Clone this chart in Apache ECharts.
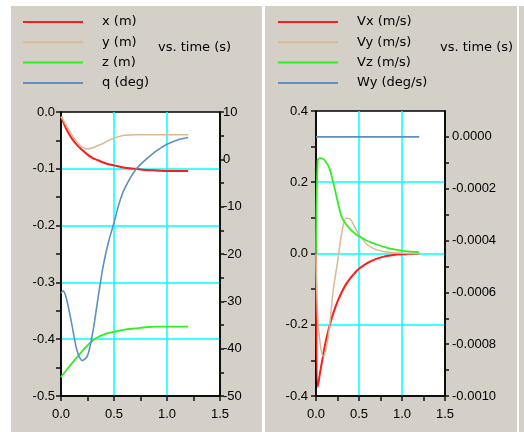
<!DOCTYPE html>
<html>
<head>
<meta charset="utf-8">
<script src="https://cdn.jsdelivr.net/npm/echarts@6/dist/echarts.min.js"></script>
<style>
  html, body { margin: 0; padding: 0; background: #ffffff; }
  #wrap { position: relative; width: 524px; height: 432px; }
  .panel { position: absolute; top: 6px; height: 426px; background: #d4d0c8; }
  #chart { position: absolute; left: 0; top: 0; width: 524px; height: 432px; }
</style>
</head>
<body>
<div id="wrap">
  <div class="panel" style="left:11px;width:251px"></div>
  <div class="panel" style="left:265px;width:252px"></div>
  <div class="panel" style="left:519px;width:5px"></div>
  <div id="chart"></div>
</div>
<script>
// Position / attitude history (left panel)
const tL   = [0, 0.02, 0.05, 0.1, 0.15, 0.2, 0.25, 0.3, 0.35, 0.4, 0.45, 0.5, 0.55, 0.6, 0.7, 0.8, 0.9, 1.0, 1.1, 1.2];
const xPos = [-0.008, -0.017, -0.030, -0.046, -0.058, -0.067, -0.075, -0.081, -0.085, -0.089, -0.092, -0.094, -0.096, -0.098, -0.100, -0.102, -0.103, -0.104, -0.104, -0.104];
const yPos = [-0.008, -0.014, -0.024, -0.040, -0.053, -0.062, -0.065, -0.063, -0.059, -0.055, -0.050, -0.046, -0.043, -0.041, -0.040, -0.040, -0.040, -0.040, -0.040, -0.040];
const zPos = [-0.467, -0.462, -0.455, -0.443, -0.432, -0.421, -0.411, -0.402, -0.396, -0.392, -0.389, -0.387, -0.385, -0.383, -0.381, -0.379, -0.378, -0.378, -0.378, -0.378];
const qAng = [-28.3, -27.8, -29.3, -34.6, -40.3, -42.5, -41.5, -36.5, -29.2, -22.3, -17.3, -13.4, -9.2, -6.2, -2.3, -0.05, 1.8, 3.2, 4.1, 4.6];

// Velocity / rate history (right panel)
const tR = [0, 0.02, 0.05, 0.08, 0.1, 0.15, 0.2, 0.25, 0.3, 0.35, 0.4, 0.45, 0.5, 0.6, 0.7, 0.8, 0.9, 1.0, 1.1, 1.2];
const vx = [0, -0.375, -0.330, -0.290, -0.262, -0.210, -0.168, -0.135, -0.108, -0.086, -0.069, -0.055, -0.043, -0.026, -0.015, -0.008, -0.004, -0.002, -0.001, 0];
const vy = [0, -0.180, -0.255, -0.288, -0.285, -0.220, -0.104, -0.025, 0.058, 0.099, 0.096, 0.074, 0.053, 0.024, 0.011, 0.005, 0.002, 0.001, 0, 0];
const vz = [0, 0.262, 0.268, 0.266, 0.262, 0.243, 0.200, 0.148, 0.102, 0.082, 0.068, 0.057, 0.049, 0.035, 0.026, 0.018, 0.012, 0.008, 0.005, 0.004];
const wy = [0, 0, 0, 0, 0, 0, 0, 0, 0, 0, 0, 0, 0, 0, 0, 0, 0, 0, 0, 0];

const namesL = ['x (m)', 'y (m)', 'z (m)', 'q (deg)'];
const namesR = ['Vx (m/s)', 'Vy (m/s)', 'Vz (m/s)', 'Wy (deg/s)'];

const RED = '#ff1a1a', TAN = '#d9b894', GREEN = '#33ee22', BLUE = '#5b8fc6';
const GRIDC = '#00ffff';
const tickFont = { fontFamily: 'Liberation Sans, Arial, sans-serif', fontSize: 13, color: '#000' };
const blackLine = () => ({ color: '#000000', width: 1.5 });
const tickLine = () => ({ color: '#111111', width: 1.5 });
const cyanLine = () => ({ color: GRIDC, width: 1.5 });

const pairs = (t, v) => t.map((x, i) => [x, v[i]]);

const timeAxis = (gridIndex) => ({
  type: 'value', gridIndex, min: 0, max: 1.5, interval: 0.5,
  axisLine: { show: true, onZero: false, lineStyle: blackLine() },
  axisTick: { show: true, length: 5, lineStyle: tickLine() },
  minorTick: { show: true, splitNumber: 2, length: 5, lineStyle: tickLine() },
  axisLabel: Object.assign({ margin: 12, formatter: v => v.toFixed(1) }, tickFont),
  splitLine: { show: true, showMinLine: false, showMaxLine: false, lineStyle: cyanLine() }
});

const lineSeries = (name, color, xAxisIndex, yAxisIndex, t, v, width) => ({
  name, type: 'line', xAxisIndex, yAxisIndex,
  data: pairs(t, v), showSymbol: false, smooth: 0.3,
  color, lineStyle: { color, width: width || 1.6 },
  emphasis: { disabled: true }, animation: false
});

const legendBase = () => ({
  orient: 'vertical', top: 7, itemWidth: 60, itemHeight: 2, itemGap: 0.3,
  icon: 'rect', selectedMode: false,
  textStyle: { fontFamily: 'DejaVu Sans, sans-serif', fontSize: 13, color: '#000', lineHeight: 20, padding: [0, 0, 0, 14] }
});

const titleText = (left) => ({
  text: 'vs. time (s)', left, top: 41, padding: 0,
  textStyle: { fontFamily: 'DejaVu Sans, sans-serif', fontSize: 13, fontWeight: 'normal', color: '#000' }
});

const chart = echarts.init(document.getElementById('chart'), null, { renderer: 'canvas' });
chart.setOption({
  animation: false,
  backgroundColor: 'transparent',
  title: [titleText(158), titleText(440)],
  legend: [
    Object.assign(legendBase(), { left: 18, data: namesL }),
    Object.assign(legendBase(), { left: 273, data: namesR })
  ],
  grid: [
    { left: 61, top: 112, width: 159, height: 284, show: true, backgroundColor: '#fff', borderColor: '#000', borderWidth: 1.5 },
    { left: 316, top: 111, width: 129, height: 285, show: true, backgroundColor: '#fff', borderColor: '#000', borderWidth: 1.5 }
  ],
  xAxis: [timeAxis(0), timeAxis(1)],
  yAxis: [
    { // left panel, metres
      type: 'value', gridIndex: 0, position: 'left', offset: 2, min: -0.5, max: 0, interval: 0.1,
      axisLine: { show: true, lineStyle: blackLine() },
      axisTick: { show: true, length: 5, lineStyle: tickLine() },
      minorTick: { show: true, splitNumber: 2, length: 5, lineStyle: tickLine() },
      axisLabel: Object.assign({ margin: 4, formatter: v => v.toFixed(1) }, tickFont),
      splitLine: { show: true, showMinLine: false, showMaxLine: false, lineStyle: cyanLine() }
    },
    { // left panel, degrees
      type: 'value', gridIndex: 0, position: 'right', min: -50, max: 10, interval: 10,
      axisLine: { show: true, lineStyle: blackLine() },
      axisTick: { show: true, length: 4, lineStyle: tickLine() },
      minorTick: { show: true, splitNumber: 2, length: 4, lineStyle: tickLine() },
      axisLabel: Object.assign({ margin: 3, formatter: v => String(Math.round(v)) }, tickFont),
      splitLine: { show: false }
    },
    { // right panel, m/s
      type: 'value', gridIndex: 1, position: 'left', offset: 2, min: -0.4, max: 0.4, interval: 0.2,
      axisLine: { show: true, lineStyle: blackLine() },
      axisTick: { show: true, length: 5, lineStyle: tickLine() },
      minorTick: { show: true, splitNumber: 2, length: 5, lineStyle: tickLine() },
      axisLabel: Object.assign({ margin: 6, formatter: v => (Math.round(v * 10) / 10).toFixed(1) }, tickFont),
      splitLine: { show: true, showMinLine: false, showMaxLine: false, lineStyle: cyanLine() }
    },
    { // right panel, deg/s
      type: 'value', gridIndex: 1, position: 'right', min: -0.001, max: 0.0001, interval: 0.0001,
      axisLine: { show: true, lineStyle: blackLine() },
      axisTick: { show: true, length: 4, lineStyle: tickLine() },
      axisLabel: Object.assign({
        margin: 7, showMaxLabel: false,
        formatter: v => {
          const k = Math.round(v * 1e4);
          return (k % 2 === 0) ? (k / 1e4).toFixed(4) : '';
        }
      }, tickFont),
      splitLine: { show: false }
    }
  ],
  series: [
    lineSeries(namesL[0], RED, 0, 0, tL, xPos, 2),
    lineSeries(namesL[1], TAN, 0, 0, tL, yPos, 1.5),
    lineSeries(namesL[2], GREEN, 0, 0, tL, zPos, 1.8),
    lineSeries(namesL[3], BLUE, 0, 1, tL, qAng, 1.6),
    lineSeries(namesR[0], RED, 1, 2, tR, vx, 2),
    lineSeries(namesR[1], TAN, 1, 2, tR, vy, 1.5),
    lineSeries(namesR[2], GREEN, 1, 2, tR, vz, 1.8),
    lineSeries(namesR[3], BLUE, 1, 3, tR, wy, 1.6)
  ]
});
</script>
</body>
</html>
